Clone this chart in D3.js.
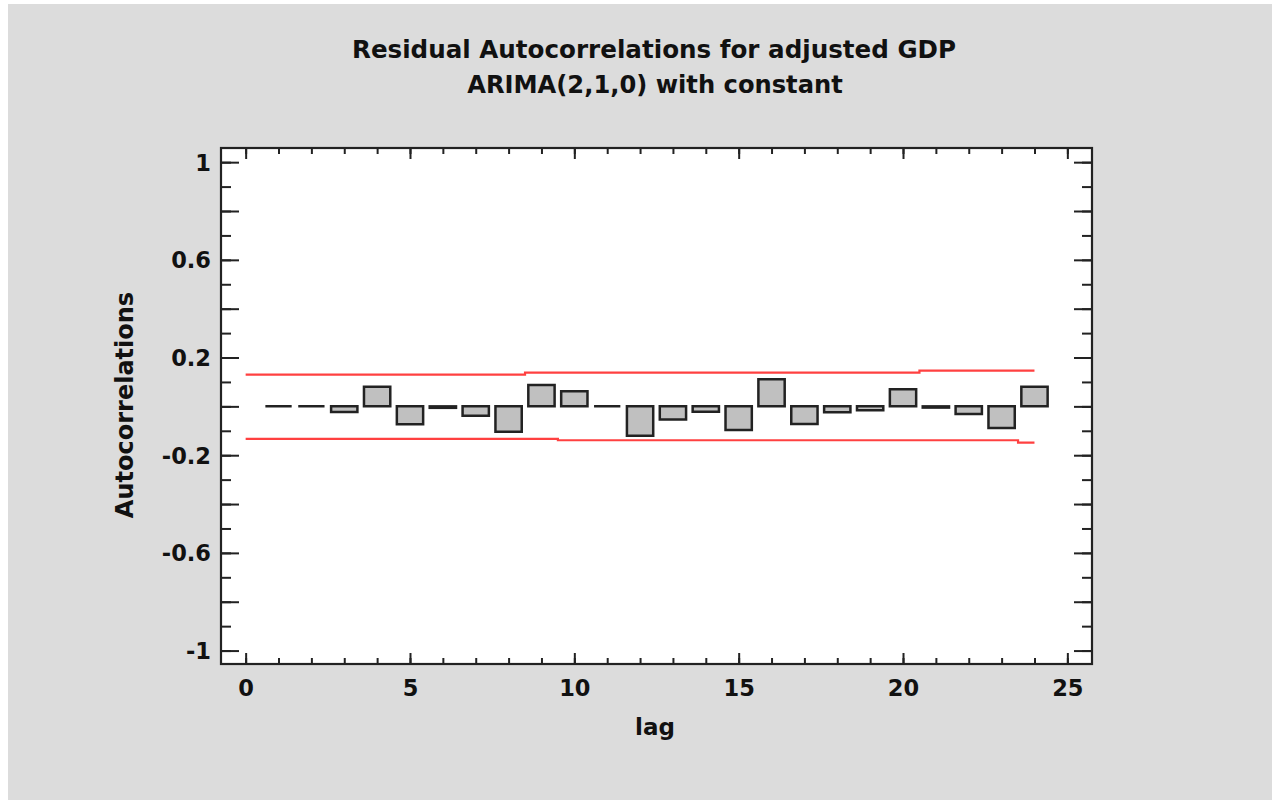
<!DOCTYPE html>
<html>
<head>
<meta charset="utf-8">
<script src="https://cdn.jsdelivr.net/npm/d3@7"></script>
<style>
  html, body { margin: 0; padding: 0; background: #fff; }
  svg { display: block; }
  text { font-family: "DejaVu Sans", sans-serif; font-weight: bold; fill: #111; }
</style>
</head>
<body>
<svg id="chart" width="1272" height="800"></svg>
<script>
// residual autocorrelations by lag
const lags = d3.range(1, 25);
const acf = [0.000, 0.000, -0.023, 0.080, -0.073, -0.006, -0.038, -0.104,
             0.088, 0.062, 0.000, -0.120, -0.054, -0.022, -0.097, 0.111,
             -0.072, -0.024, -0.016, 0.070, -0.005, -0.031, -0.089, 0.080];

// 95% probability limits, lags 0..24
const limitLags = d3.range(0, 25);
const upperLimit = [0.130, 0.130, 0.130, 0.130, 0.130, 0.130, 0.130, 0.130, 0.130,
                    0.138, 0.138, 0.138, 0.138, 0.138, 0.138, 0.138, 0.138, 0.138,
                    0.138, 0.138, 0.138, 0.146, 0.146, 0.146, 0.146];
const lowerLimit = [-0.1335, -0.1335, -0.1335, -0.1335, -0.1335, -0.1335, -0.1335, -0.1335, -0.1335, -0.1335,
                    -0.1388, -0.1388, -0.1388, -0.1388, -0.1388, -0.1388, -0.1388, -0.1388, -0.1388,
                    -0.1388, -0.1388, -0.1388, -0.1388, -0.1388, -0.1486];

const yMajor = [-1, -0.6, -0.2, 0.2, 0.6, 1];
const yMajorUnlabeled = [-0.8, -0.4, 0, 0.4, 0.8];
const xMajor = [0, 5, 10, 15, 20, 25];

const svg = d3.select("#chart");

// grey panel (screenshot leaves a white strip at left/top)
svg.append("rect").attr("x", 8).attr("y", 4).attr("width", 1264).attr("height", 796).attr("fill", "#dcdcdc");

const plot = { left: 221, right: 1092, top: 148, bottom: 664 };

const x = d3.scaleLinear().domain([-0.75, 25.75]).range([plot.left, plot.right]);
const y = d3.scaleLinear().domain([-1.055, 1.058]).range([plot.bottom, plot.top]);

svg.append("rect")
  .attr("x", plot.left).attr("y", plot.top)
  .attr("width", plot.right - plot.left).attr("height", plot.bottom - plot.top)
  .attr("fill", "#fff");

// limits
const limitLine = d3.line().curve(d3.curveStep).x((d) => x(d[0])).y((d) => y(d[1]));
[upperLimit, lowerLimit].forEach((vals) => {
  svg.append("path")
    .attr("d", limitLine(limitLags.map((l, i) => [l, vals[i]])))
    .attr("fill", "none")
    .attr("stroke", "#ff4040")
    .attr("stroke-width", 2.2);
});

// bars — drawn as paths so zero-valued lags still show as a dash
const bw = 0.8;
svg.append("g").selectAll("path").data(lags).join("path")
  .attr("d", (d, i) => {
    const x0 = x(d - bw / 2), x1 = x(d + bw / 2);
    const y0 = y(0), y1 = y(acf[i]);
    return `M${x0},${y0}H${x1}V${y1}H${x0}Z`;
  })
  .attr("fill", "#c0c0c0")
  .attr("stroke", "#222")
  .attr("stroke-width", 2.5);

// axes: ticks point inward on all four sides
function styleAxis(g) {
  g.select(".domain").remove();
  g.selectAll(".tick line").attr("stroke", "#222").attr("stroke-width", 2);
  g.selectAll("text").attr("font-size", 22.5).attr("fill", "#111").attr("font-family", "DejaVu Sans");
}

const minorY = d3.range(-10, 11).map((k) => k / 10);
const minorX = d3.range(0, 26);

svg.append("g").attr("transform", `translate(${plot.left},0)`)
  .call(d3.axisLeft(y).tickValues(minorY).tickSize(-10).tickFormat(""))
  .call(styleAxis);
svg.append("g").attr("transform", `translate(${plot.left},0)`)
  .call(d3.axisLeft(y).tickValues(yMajorUnlabeled).tickSize(-18).tickFormat(""))
  .call(styleAxis);
svg.append("g").attr("transform", `translate(${plot.left},0)`)
  .call(d3.axisLeft(y).tickValues(yMajor).tickSize(-18).tickPadding(10).tickFormat((d) => String(d)))
  .call(styleAxis)
  .call((g) => g.selectAll("text").attr("dy", "0.36em"));

svg.append("g").attr("transform", `translate(${plot.right},0)`)
  .call(d3.axisRight(y).tickValues(minorY).tickSize(-10).tickFormat(""))
  .call(styleAxis);
svg.append("g").attr("transform", `translate(${plot.right},0)`)
  .call(d3.axisRight(y).tickValues(yMajor.concat(yMajorUnlabeled)).tickSize(-18).tickFormat(""))
  .call(styleAxis);

svg.append("g").attr("transform", `translate(0,${plot.bottom})`)
  .call(d3.axisBottom(x).tickValues(minorX).tickSize(-6).tickFormat(""))
  .call(styleAxis);
svg.append("g").attr("transform", `translate(0,${plot.bottom})`)
  .call(d3.axisBottom(x).tickValues(xMajor).tickSize(-11).tickPadding(16).tickFormat(d3.format("d")))
  .call(styleAxis);

svg.append("g").attr("transform", `translate(0,${plot.top})`)
  .call(d3.axisTop(x).tickValues(minorX).tickSize(-6).tickFormat(""))
  .call(styleAxis);
svg.append("g").attr("transform", `translate(0,${plot.top})`)
  .call(d3.axisTop(x).tickValues(xMajor).tickSize(-11).tickFormat(""))
  .call(styleAxis);

// frame
svg.append("rect")
  .attr("x", plot.left).attr("y", plot.top)
  .attr("width", plot.right - plot.left).attr("height", plot.bottom - plot.top)
  .attr("fill", "none").attr("stroke", "#222").attr("stroke-width", 2.2);

// titles
svg.append("text").attr("x", 654).attr("y", 58).attr("text-anchor", "middle")
  .attr("font-size", 24.6).text("Residual Autocorrelations for adjusted GDP");
svg.append("text").attr("x", 655).attr("y", 93).attr("text-anchor", "middle")
  .attr("font-size", 24.2).text("ARIMA(2,1,0) with constant");

svg.append("text").attr("x", 655).attr("y", 735).attr("text-anchor", "middle")
  .attr("font-size", 23).text("lag");
svg.append("text").attr("transform", "translate(133,405) rotate(-90)").attr("text-anchor", "middle")
  .attr("font-size", 24).text("Autocorrelations");
</script>
</body>
</html>
